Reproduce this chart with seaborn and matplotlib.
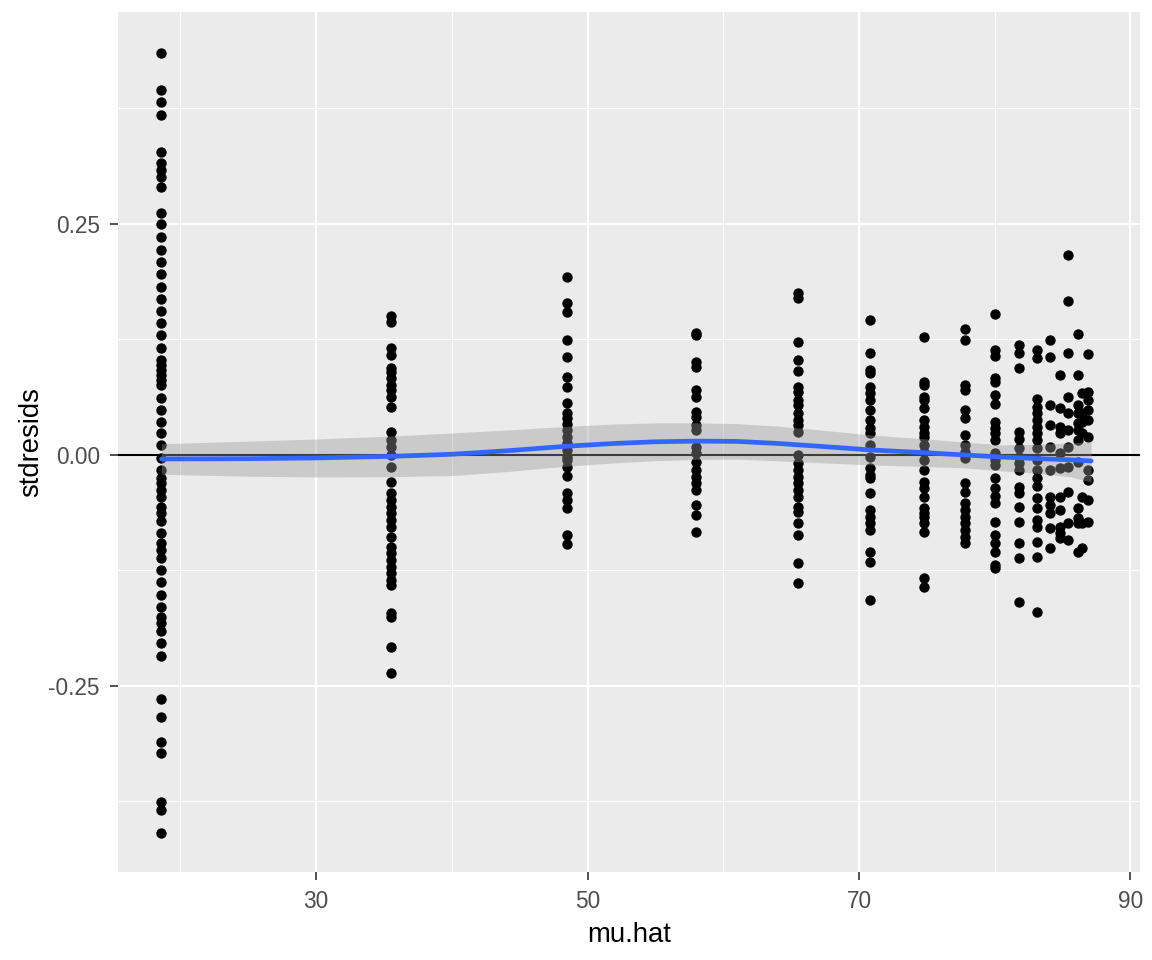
import numpy as np
import pandas as pd
import matplotlib
matplotlib.use("Agg")
import matplotlib.pyplot as plt
import seaborn as sns

# ---- data: fitted values (mu.hat) and standardized residuals ----
mu_levels = [18.6, 35.5, 48.5, 58.0, 65.5, 70.8, 74.8, 77.8, 80.0,
             81.8, 83.1, 84.1, 84.8, 85.4, 86.1, 86.4, 86.9]

res_18_6 = [0.4354, 0.3950, 0.3824, 0.3680, 0.3282, 0.3160, 0.3084, 0.3012, 0.2900,
            0.2622, 0.2500, 0.2359, 0.2219, 0.2089, 0.1959, 0.1818, 0.1688, 0.1558,
            0.1429, 0.1299, 0.1161, 0.1028, 0.0974, 0.0920, 0.0866, 0.0812, 0.0758,
            0.0620, 0.0487, 0.0360, 0.0238, 0.0108, -0.0032, -0.0162, -0.0249,
            -0.0303, -0.0379, -0.0455, -0.0563, -0.0628, -0.0714, -0.0844, -0.0952,
            -0.1028, -0.1115, -0.1245, -0.1374, -0.1515, -0.1645, -0.1753, -0.1818,
            -0.1905, -0.2035, -0.2175, -0.2641, -0.2835, -0.3106, -0.3225, -0.3755,
            -0.3842, -0.4091]
res_35_5 = [0.1504, 0.1439, 0.1158, 0.1082, 0.0942, 0.0898, 0.0833, 0.0758, 0.0703,
            0.0628, 0.0519, 0.0249, 0.0162, 0.0087, 0.0000, -0.0130, -0.0292, -0.0411,
            -0.0487, -0.0563, -0.0628, -0.0703, -0.0779, -0.0887, -0.0996, -0.1061,
            -0.1136, -0.1212, -0.1277, -0.1353, -0.1407, -0.1710, -0.1753, -0.2078,
            -0.2359]
res_48_5 = [0.1926, 0.1645, 0.1548, 0.1245, 0.1061, 0.0844, 0.0736, 0.0563, 0.0455,
            0.0400, 0.0335, 0.0271, 0.0195, 0.0130, 0.0054, -0.0022, -0.0054, -0.0130,
            -0.0227, -0.0411, -0.0487, -0.0574, -0.0866, -0.0963]
res_58_0 = [0.1320, 0.1299, 0.1006, 0.0952, 0.0703, 0.0628, 0.0465, 0.0411, 0.0325,
            0.0271, 0.0087, 0.0022, -0.0076, -0.0162, -0.0238, -0.0303, -0.0379,
            -0.0541, -0.0649, -0.0833]
res_65_5 = [0.1753, 0.1699, 0.1223, 0.1028, 0.0909, 0.0736, 0.0682, 0.0595, 0.0541,
            0.0455, 0.0379, 0.0325, 0.0249, 0.0000, -0.0087, -0.0162, -0.0238, -0.0303,
            -0.0379, -0.0455, -0.0563, -0.0617, -0.0736, -0.0866, -0.1169, -0.1385]
res_70_8 = [0.1461, 0.1104, 0.0920, 0.0887, 0.0736, 0.0671, 0.0595, 0.0487, 0.0379,
            0.0292, 0.0238, 0.0108, -0.0022, -0.0141, -0.0216, -0.0249, -0.0411,
            -0.0595, -0.0671, -0.0736, -0.0812, -0.1050, -0.1158, -0.1569]
res_74_8 = [0.1277, 0.0790, 0.0758, 0.0628, 0.0595, 0.0509, 0.0379, 0.0303, 0.0238,
            0.0195, 0.0108, 0.0032, -0.0054, -0.0162, -0.0292, -0.0357, -0.0455,
            -0.0574, -0.0628, -0.0671, -0.0736, -0.0833, -0.1331, -0.1429]
res_77_8 = [0.1364, 0.1245, 0.0758, 0.0703, 0.0487, 0.0400, 0.0216, 0.0108, 0.0032,
            -0.0032, -0.0303, -0.0400, -0.0519, -0.0595, -0.0671, -0.0736, -0.0812,
            -0.0887, -0.0952]
res_80_0 = [0.1526, 0.1136, 0.1071, 0.0833, 0.0790, 0.0649, 0.0552, 0.0357, 0.0292,
            0.0238, 0.0162, 0.0022, -0.0054, -0.0108, -0.0249, -0.0357, -0.0444,
            -0.0519, -0.0725, -0.0866, -0.0952, -0.1050, -0.1190, -0.1223]
res_81_8 = [0.1190, 0.1104, 0.0942, 0.0249, 0.0173, 0.0076, -0.0022, -0.0087, -0.0162,
            -0.0346, -0.0411, -0.0563, -0.0725, -0.0952, -0.1115, -0.1591]
res_83_1 = [0.1136, 0.1050, 0.0606, 0.0519, 0.0455, 0.0379, 0.0303, 0.0238, 0.0162,
            0.0076, -0.0054, -0.0162, -0.0249, -0.0335, -0.0465, -0.0574, -0.0703,
            -0.0779, -0.0942, -0.1104, -0.1699]
res_84_1 = [0.1245, 0.1061, 0.0541, 0.0325, 0.0087, -0.0162, -0.0455, -0.0541, -0.0628,
            -0.0790, -0.1006]
res_84_8 = [0.0866, 0.0509, 0.0303, 0.0238, 0.0022, -0.0141, -0.0455, -0.0595, -0.0779,
            -0.0844, -0.0898]
res_85_4 = [0.2165, 0.1667, 0.1104, 0.0628, 0.0455, 0.0271, 0.0087, -0.0130, -0.0400,
            -0.0736, -0.0920]
res_86_1 = [0.1310, 0.0866, 0.0541, 0.0455, 0.0346, 0.0271, 0.0162, -0.0076, -0.0574,
            -0.0682, -0.0736, -0.1050]
res_86_4 = [0.0671, 0.0455, 0.0357, 0.0238, -0.0455, -0.0736, -0.1006]
res_86_9 = [0.1093, 0.0682, 0.0595, 0.0487, 0.0379, 0.0195, -0.0162, -0.0271, -0.0487,
            -0.0725]

residual_groups = [res_18_6, res_35_5, res_48_5, res_58_0, res_65_5, res_70_8,
                   res_74_8, res_77_8, res_80_0, res_81_8, res_83_1, res_84_1,
                   res_84_8, res_85_4, res_86_1, res_86_4, res_86_9]

# loess smooth (fit, band lower and upper limits)
smooth_x = [18.6, 25.0, 30.0, 35.5, 40.0, 44.0, 48.5, 52.0, 55.0, 58.0, 61.0,
            64.0, 67.0, 70.8, 74.8, 77.8, 80.4, 83.0, 85.5, 87.1]
smooth_y = [-0.0043, -0.0040, -0.0032, -0.0015, 0.0008, 0.0045, 0.0095, 0.0125,
            0.0143, 0.0150, 0.0147, 0.0125, 0.0095, 0.0055, 0.0025, 0.0000,
            -0.0022, -0.0038, -0.0052, -0.0065]
smooth_lo = [-0.0208, -0.0230, -0.0237, -0.0235, -0.0222, -0.0180, -0.0120, -0.0085,
             -0.0062, -0.0048, -0.0045, -0.0063, -0.0083, -0.0107, -0.0125, -0.0140,
             -0.0170, -0.0195, -0.0235, -0.0292]
smooth_hi = [0.0122, 0.0150, 0.0173, 0.0205, 0.0238, 0.0270, 0.0310, 0.0335,
             0.0348, 0.0348, 0.0339, 0.0313, 0.0273, 0.0217, 0.0175, 0.0140,
             0.0110, 0.0115, 0.0130, 0.0145]

x_ticks = [30, 50, 70, 90]
y_ticks = [-0.25, 0.0, 0.25]
y_ticklabels = ["-0.25", "0.00", "0.25"]

df = pd.DataFrame({
    "mu.hat": np.concatenate([[m] * len(g) for m, g in zip(mu_levels, residual_groups)]),
    "stdresids": np.concatenate(residual_groups),
})
sm = pd.DataFrame({"x": smooth_x, "y": smooth_y, "lo": smooth_lo, "hi": smooth_hi})

# ---- style ----
sns.set_theme(style="white")
plt.rcParams["font.family"] = ["Liberation Sans", "DejaVu Sans"]

fig = plt.figure(figsize=(11.52, 9.6), dpi=100)
ax = fig.add_axes([118 / 1152, 88 / 960, (1140 - 118) / 1152, (872 - 12) / 960])
ax.set_facecolor("#EBEBEB")
for s in ax.spines.values():
    s.set_visible(False)

sns.scatterplot(data=df, x="mu.hat", y="stdresids", ax=ax, color="black",
                s=56, linewidth=0, zorder=2)
ax.axhline(0, color="black", lw=1.5, zorder=3)
ax.fill_between(sm["x"], sm["lo"], sm["hi"],
                color="#999999", alpha=0.4, linewidth=0, zorder=4)
sns.lineplot(data=sm, x="x", y="y", ax=ax, color="#3366FF", lw=3.4, zorder=5)

ax.set_xlim(15.4, 90.7)
ax.set_ylim(-0.4513, 0.4794)
ax.set_xticks(x_ticks)
ax.set_xticks([20, 40, 60, 80], minor=True)
ax.set_yticks(y_ticks)
ax.set_yticklabels(y_ticklabels)
ax.set_yticks([-0.375, -0.125, 0.125, 0.375], minor=True)
ax.set_axisbelow(True)
ax.grid(which="major", color="white", lw=1.6)
ax.grid(which="minor", color="white", lw=0.8)
ax.tick_params(which="major", length=5.8, width=1.2, color="#333333",
               labelcolor="#4D4D4D", labelsize=16.3, pad=7.2)
ax.tick_params(which="minor", length=0)
ax.tick_params(axis="x", bottom=True)
ax.tick_params(axis="y", left=True)
ax.set_xlabel("mu.hat", fontsize=19.8, color="black", labelpad=6.5)
ax.set_ylabel("stdresids", fontsize=19.8, color="black", labelpad=3)

fig.savefig("out.png", dpi=100)
